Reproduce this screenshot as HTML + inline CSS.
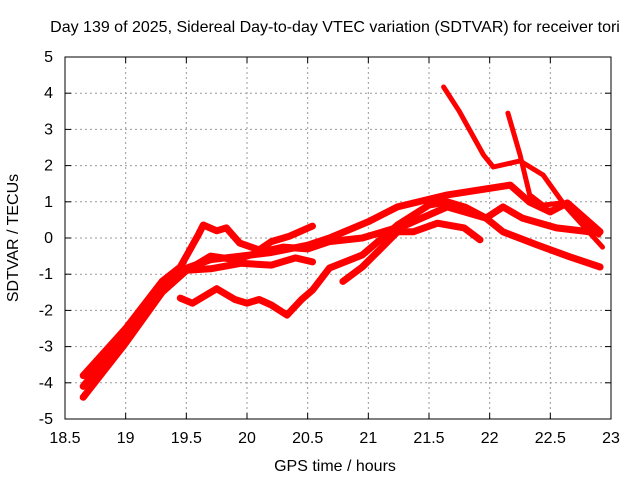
<!DOCTYPE html>
<html><head><meta charset="utf-8"><style>
body{margin:0;background:#fff}
svg text{font-family:"Liberation Sans",sans-serif;font-size:16px;fill:#000}
</style></head><body>
<svg width="640" height="480">
<rect width="640" height="480" fill="#fff"/>
<text x="335" y="32" text-anchor="middle">Day 139 of 2025, Sidereal Day-to-day VTEC variation (SDTVAR) for receiver tori</text>
<g id="grid"></g>
<g id="ticks"></g>
<g id="series"></g>
<rect x="65" y="57" width="546" height="362" fill="none" stroke="#000" stroke-width="1"/>
<text x="335" y="471" text-anchor="middle">GPS time / hours</text>
<text transform="translate(18,238) rotate(-90)" text-anchor="middle">SDTVAR / TECUs</text>
</svg>
<script>
const xTicks=[18.5,19,19.5,20,20.5,21,21.5,22,22.5,23];
const xTickLabels=["18.5","19","19.5","20","20.5","21","21.5","22","22.5","23"];
const yTicks=[-5,-4,-3,-2,-1,0,1,2,3,4,5];
const yTickLabels=["-5","-4","-3","-2","-1","0","1","2","3","4","5"];
const s1x=[18.65,19.0,19.3,19.45,19.6,19.64,19.75,19.83,19.94,20.1,20.2,20.35,20.54];
const s1y=[-3.8,-2.5,-1.2,-0.8,0.1,0.36,0.2,0.28,-0.14,-0.33,-0.1,0.05,0.33];
const s2x=[18.65,19.0,19.3,19.45,19.7,19.95,20.2,20.4,20.54];
const s2y=[-4.1,-2.6,-1.3,-0.9,-0.85,-0.7,-0.75,-0.55,-0.66];
const s3x=[18.65,19.0,19.3,19.5,19.7,19.9,20.1,20.3,20.5,20.68,20.95,21.31,21.65,21.97,22.11,22.27,22.55,22.9];
const s3y=[-4.4,-2.9,-1.5,-0.9,-0.5,-0.6,-0.4,-0.25,-0.3,-0.1,0,0.36,0.86,0.55,0.86,0.55,0.28,0.14];
const s4x=[19.45,19.55,19.75,19.9,20.0,20.1,20.2,20.33,20.45,20.54,20.68,20.95,21.24,21.5,21.65,21.8,21.97,22.11,22.39,22.66,22.91];
const s4y=[-1.66,-1.8,-1.4,-1.7,-1.8,-1.7,-1.85,-2.13,-1.7,-1.44,-0.83,-0.47,0.36,0.91,1.0,0.85,0.55,0.17,-0.19,-0.52,-0.8];
const s5x=[20.79,20.95,21.1,21.24,21.37,21.57,21.79,21.92];
const s5y=[-1.2,-0.8,-0.3,0.17,0.17,0.41,0.28,-0.05];
const s6x=[19.4,19.7,19.95,20.2,20.5,20.68,21.0,21.24,21.65,22.17,22.33,22.5,22.64,22.91];
const s6y=[-0.95,-0.6,-0.5,-0.4,-0.2,0,0.45,0.86,1.19,1.46,0.99,0.72,0.97,0.17];
const s7x=[21.62,21.75,21.95,22.03,22.25,22.44,22.6,22.9];
const s7y=[4.17,3.5,2.29,1.96,2.13,1.74,0.99,0.08];
const s8x=[22.15,22.25,22.33,22.44,22.6,22.93];
const s8y=[3.45,2.3,1.19,0.91,0.97,-0.25];
const allX=[s1x,s2x,s3x,s4x,s5x,s6x,s7x,s8x];
const allY=[s1y,s2y,s3y,s4y,s5y,s6y,s7y,s8y];
const X=v=>65+(v-18.5)*546/4.5;
const Y=v=>238-v*36.2;
const NS="http://www.w3.org/2000/svg";
const grid=document.getElementById('grid'),ticks=document.getElementById('ticks'),ser=document.getElementById('series');
function mk(tag,attrs,parent){const e=document.createElementNS(NS,tag);for(const k in attrs)e.setAttribute(k,attrs[k]);parent.appendChild(e);return e;}
xTicks.forEach((t,i)=>{
  const x=X(t);
  if(i>0&&i<xTicks.length-1){const g=mk('line',{x1:x,x2:x,y1:57,y2:419,stroke:'#999','stroke-dasharray':'2,3'},grid);
  
  }
  mk('line',{x1:x,x2:x,y1:419,y2:413,stroke:'#000'},grid);
  mk('line',{x1:x,x2:x,y1:57,y2:63,stroke:'#000'},grid);
  const tx=mk('text',{x:x,y:443,'text-anchor':'middle'},ticks);tx.textContent=xTickLabels[i];
  
  
});
yTicks.forEach((t,i)=>{
  const y=Y(t);
  if(i>0&&i<yTicks.length-1){const g=mk('line',{x1:65,x2:611,y1:y,y2:y,stroke:'#999','stroke-dasharray':'2,3'},grid);
  
  }
  mk('line',{x1:65,x2:71,y1:y,y2:y,stroke:'#000'},grid);
  mk('line',{x1:605,x2:611,y1:y,y2:y,stroke:'#000'},grid);
  const tx=mk('text',{x:53,y:y+5,'text-anchor':'end'},ticks);tx.textContent=yTickLabels[i];
  
  
});
allX.forEach((xs,i)=>{
  const ys=allY[i];
  const pts=xs.map((v,j)=>X(v).toFixed(1)+','+Y(ys[j]).toFixed(1)).join(' ');
  const p=mk('polyline',{points:pts,fill:'none',stroke:'#ff0000','stroke-width':(i>=6?5:7),'stroke-linejoin':'round','stroke-linecap':'round'},ser);
  
  
});
</script>
</body></html>
